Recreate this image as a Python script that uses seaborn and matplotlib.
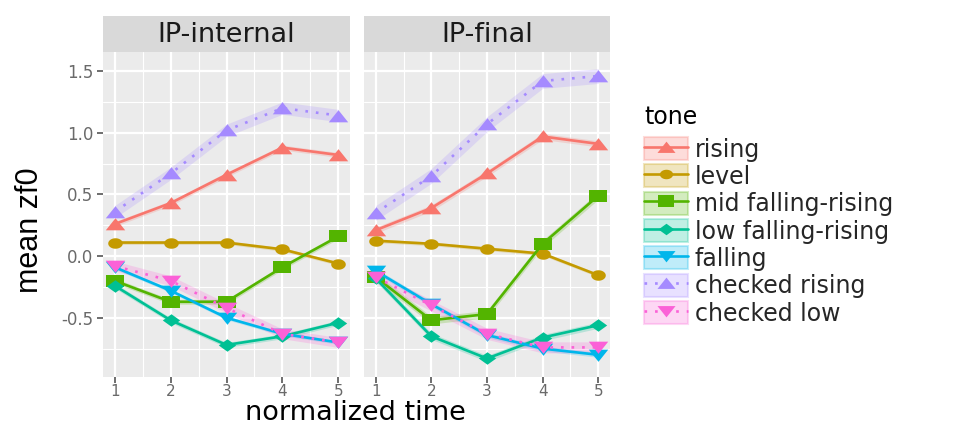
import numpy as np
import pandas as pd
import matplotlib
matplotlib.use("Agg")
import matplotlib.pyplot as plt
from matplotlib.lines import Line2D
from matplotlib.patches import Rectangle
import seaborn as sns

# ---- data -------------------------------------------------------------
times = [1, 2, 3, 4, 5]
tones = ["rising", "level", "mid falling-rising", "low falling-rising",
         "falling", "checked rising", "checked low"]
panels = ["IP-internal", "IP-final"]

internal_rising = [0.26, 0.43, 0.66, 0.88, 0.82]
internal_level = [0.11, 0.11, 0.11, 0.055, -0.06]
internal_mid_fr = [-0.20, -0.37, -0.37, -0.09, 0.16]
internal_low_fr = [-0.24, -0.52, -0.72, -0.65, -0.54]
internal_falling = [-0.09, -0.28, -0.50, -0.63, -0.70]
internal_checked_rising = [0.36, 0.67, 1.02, 1.20, 1.14]
internal_checked_low = [-0.08, -0.20, -0.42, -0.63, -0.70]

final_rising = [0.21, 0.39, 0.67, 0.97, 0.91]
final_level = [0.125, 0.10, 0.06, 0.02, -0.155]
final_mid_fr = [-0.17, -0.52, -0.47, 0.10, 0.49]
final_low_fr = [-0.18, -0.65, -0.83, -0.66, -0.56]
final_falling = [-0.12, -0.39, -0.64, -0.75, -0.80]
final_checked_rising = [0.35, 0.65, 1.07, 1.42, 1.46]
final_checked_low = [-0.17, -0.40, -0.63, -0.74, -0.74]

# half-width of the confidence ribbon for each tone
internal_band = [0.02, 0.015, 0.02, 0.02, 0.015, 0.05, 0.04]
final_band = [0.025, 0.015, 0.03, 0.025, 0.02, 0.06, 0.045]

series = {
    "IP-internal": [internal_rising, internal_level, internal_mid_fr, internal_low_fr,
                    internal_falling, internal_checked_rising, internal_checked_low],
    "IP-final": [final_rising, final_level, final_mid_fr, final_low_fr,
                 final_falling, final_checked_rising, final_checked_low],
}
bands = {"IP-internal": internal_band, "IP-final": final_band}

rows = []
for p in panels:
    for tone, vals, hw in zip(tones, series[p], bands[p]):
        for t, v in zip(times, vals):
            rows.append({"panel": p, "time": t, "tone": tone, "zf0": v, "hw": hw})
df = pd.DataFrame(rows)

# ---- styling ----------------------------------------------------------
colors = ["#F8766D", "#C49A00", "#53B400", "#00C094", "#00B6EB", "#A58AFF", "#FB61D7"]
palette = dict(zip(tones, colors))

# wide, flat marker outlines (x half-extent 1)
tri_up = [(-1.0, -0.6), (1.0, -0.6), (0.0, 0.65), (-1.0, -0.6)]
tri_down = [(-1.0, 0.6), (1.0, 0.6), (0.0, -0.65), (-1.0, 0.6)]
square = [(-1.0, -0.68), (1.0, -0.68), (1.0, 0.68), (-1.0, 0.68), (-1.0, -0.68)]
diamond = [(-1.0, 0.0), (0.0, -0.72), (1.0, 0.0), (0.0, 0.72), (-1.0, 0.0)]
ang = np.linspace(0, 2 * np.pi, 40)
ellipse = list(zip(np.cos(ang), 0.72 * np.sin(ang)))

markers = dict(zip(tones, [tri_up, ellipse, square, diamond, tri_down, tri_up, tri_down]))
msizes = dict(zip(tones, [14, 10.5, 13, 12.5, 14, 14, 14]))
dashes = dict(zip(tones, ["", "", "", "", "", (1, 3), (1, 3)]))

sns.set_theme(style="white")
plt.rcParams["font.family"] = ["DejaVu Sans"]

W, H = 968, 426
fig = plt.figure(figsize=(W / 100, H / 100), dpi=100)

panel_x = {"IP-internal": (103, 247), "IP-final": (364, 246)}
top_px, bot_px, strip_px = 52, 377, 36
LINE_W = 1.9

for i, p in enumerate(panels):
    x0, w = panel_x[p]
    ax = fig.add_axes([x0 / W, (H - bot_px) / H, w / W, (bot_px - top_px) / H])
    ax.set_facecolor("#EBEBEB")
    sub = df[df["panel"] == p]

    for tone in tones:
        s = sub[sub["tone"] == tone]
        ax.fill_between(s["time"], s["zf0"] - s["hw"], s["zf0"] + s["hw"],
                        color=palette[tone], alpha=0.22, lw=0, zorder=2)

    for tone in tones:
        s = sub[sub["tone"] == tone]
        sns.lineplot(data=s, x="time", y="zf0", color=palette[tone],
                     marker=markers[tone], markersize=msizes[tone],
                     markeredgewidth=0, linewidth=LINE_W,
                     dashes=False, ax=ax, legend=False, errorbar=None, zorder=3)
        if dashes[tone]:
            ax.lines[-1].set_linestyle((0, dashes[tone]))

    ax.set_xlim(0.79, 5.21)
    ax.set_ylim(-0.98, 1.655)
    ax.set_xticks(times)
    ax.set_xticks([1.5, 2.5, 3.5, 4.5], minor=True)
    ax.set_yticks([-0.5, 0.0, 0.5, 1.0, 1.5])
    ax.set_yticks([-0.75, -0.25, 0.25, 0.75, 1.25], minor=True)
    ax.grid(which="major", color="white", lw=1.6)
    ax.grid(which="minor", color="white", lw=0.8)
    ax.set_axisbelow(True)
    for sp in ax.spines.values():
        sp.set_visible(False)
    ax.set_xlabel("")
    ax.set_ylabel("")
    ax.tick_params(axis="x", which="major", length=4, width=1.2, color="#555555",
                   labelsize=11, labelcolor="#6A6A6A", pad=1, bottom=True)
    ax.tick_params(which="minor", length=0)
    if i == 0:
        ax.set_yticklabels(["-0.5", "0.0", "0.5", "1.0", "1.5"])
        ax.tick_params(axis="y", which="major", length=4, width=1.2, color="#555555",
                       labelsize=12, labelcolor="#6A6A6A", pad=3, left=True)
    else:
        ax.tick_params(axis="y", which="both", left=False, labelleft=False)

    sax = fig.add_axes([x0 / W, (H - top_px) / H, w / W, strip_px / H])
    sax.set_facecolor("#D9D9D9")
    sax.set_xticks([])
    sax.set_yticks([])
    for sp in sax.spines.values():
        sp.set_visible(False)
    sax.text(0.5, 0.47, p, ha="center", va="center", fontsize=19.5,
             color="#1A1A1A", transform=sax.transAxes)

fig.text(355 / W, 1 - 419.5 / H, "normalized time", ha="center", va="baseline",
         fontsize=19.5, color="black")
fig.text(30 / W, 1 - 230 / H, "mean zf0", ha="center", va="center", rotation=90,
         fontsize=22, color="black",
         family=["Liberation Sans Narrow", "Liberation Sans", "DejaVu Sans"])

# ---- legend -----------------------------------------------------------
fig.text(644 / W, 1 - 117 / H, "tone", ha="left", va="center", fontsize=17,
         color="black")
handles = []
for tone in tones:
    box = Rectangle((0, 0), 1, 1, facecolor=palette[tone], alpha=0.25,
                    edgecolor=palette[tone], lw=1.5)
    ln = Line2D([], [], color=palette[tone], lw=LINE_W, marker=markers[tone],
                markersize=msizes[tone] - 1, markeredgewidth=0,
                linestyle=(0, dashes[tone]) if dashes[tone] else "-")
    handles.append((box, ln))
leg = fig.legend(handles, tones, loc="upper left",
                 bbox_to_anchor=(644 / W, 1 - 137 / H), frameon=False,
                 fontsize=17, handlelength=1.85,
                 handleheight=1.12, labelspacing=0.12, handletextpad=0.3,
                 borderpad=0, borderaxespad=0)

fig.savefig("out.png", dpi=100)
